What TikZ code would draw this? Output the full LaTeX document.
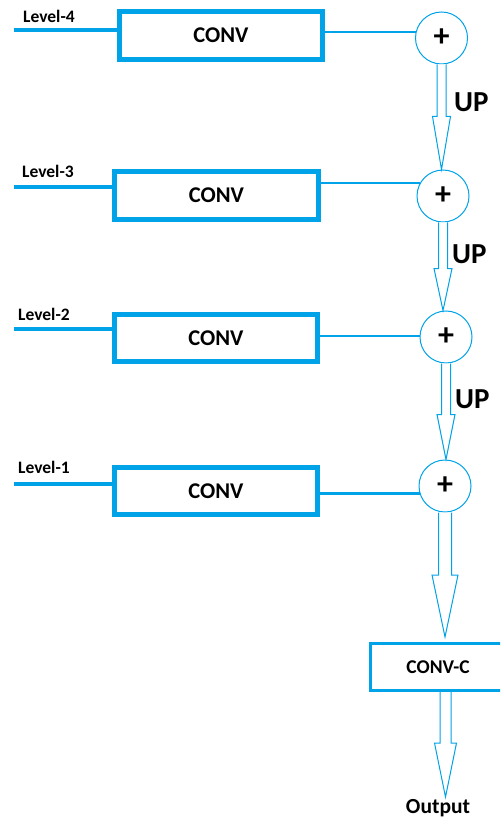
\documentclass[tikz,border=0pt]{standalone}
\usepackage{fontspec}
\setmainfont{Carlito}
\usetikzlibrary{calc}

\definecolor{paintblue}{RGB}{0,162,232}

% hollow block arrow: from, to, head length, half width of the shaft
\newcommand{\blockarrow}[4]{%
  \draw[hollow] let \p1=#1, \p2=#2 in
    (\x1-#4pt,\y1) -- (\x1-#4pt,\y2+#3pt) -- (\x1-2*#4pt,\y2+#3pt) -- (\x1,\y2)
    -- (\x1+2*#4pt,\y2+#3pt) -- (\x1+#4pt,\y2+#3pt) -- (\x1+#4pt,\y1);
}

\tikzset{
  convbox/.style={draw=paintblue, line width=5pt, minimum width=203pt, minimum height=48pt,
    inner sep=0pt, font=\fontsize{22.5}{26}\selectfont\bfseries},
  sumnode/.style={circle, draw=paintblue, line width=1pt, minimum size=52pt, inner sep=0pt,
    font=\fontsize{32}{34}\selectfont\bfseries},
  feed/.style={paintblue, line width=4pt},
  link/.style={paintblue, line width=2.5pt},
  hollow/.style={draw=paintblue, line width=1pt, fill=white, line join=miter},
  lvltext/.style={anchor=base west, inner sep=0pt, font=\fontsize{17.5}{20}\selectfont\bfseries},
  uptext/.style={anchor=base west, inner sep=0pt, font=\fontsize{29}{32}\selectfont\bfseries},
  smalltext/.style={inner sep=0pt, font=\fontsize{19.5}{22}\selectfont\bfseries},
}

\begin{document}
\begin{tikzpicture}[x=1pt, y=-1pt]
    \useasboundingbox (0,0) rectangle (500,818);
    \clip (0,0) rectangle (500,818);
    % Conv blocks
    \node[convbox] (conv4) at (221,35.5) {CONV};
    \node[convbox, minimum width=204pt] (conv3) at (216.5,195.5) {CONV};
    \node[convbox, minimum height=47pt] (conv2) at (216,338) {CONV};
    \node[convbox, minimum height=47pt] (conv1) at (216,491) {CONV};
    % Sums
    \node[sumnode] (sum4) at (441.5,38) {+};
    \node[sumnode] (sum3) at (443,196) {+};
    \node[sumnode] (sum2) at (446,337) {+};
    \node[sumnode] (sum1) at (445,486) {+};
    % Inputs
    \node[lvltext] (lvl4) at (23,23) {Level-4};
    \node[lvltext] (lvl3) at (22,178) {Level-3};
    \node[lvltext] (lvl2) at (18,320) {Level-2};
    \node[lvltext] (lvl1) at (18,473) {Level-1};
    \coordinate (in4) at (14,30);
    \coordinate (in3) at (14,187);
    \coordinate (in2) at (14,329);
    \coordinate (in1) at (14,484);
    \draw[feed] (in4) -- (in4 -| conv4.west);
    \draw[feed] (in3) -- (in3 -| conv3.west);
    \draw[feed] (in2) -- (in2 -| conv2.west);
    \draw[feed] (in1) -- (in1 -| conv1.west);
    % Conv to sum
    \draw[link] (sum4.167 -| conv4.east) -- (sum4.167);
    \draw[link] (sum3.150 -| conv3.east) -- (sum3.150);
    \draw[link] (sum2.178 -| conv2.east) -- (sum2.178);
    \draw[link] (sum1.196 -| conv1.east) -- (sum1.196);
    % Upsampling
    \blockarrow{(sum4.south)}{(sum3.north)}{53}{4.5}
    \blockarrow{(sum3.south)}{(sum2.north)}{42}{4.5}
    \blockarrow{(sum2.south)}{(sum1.north)}{45}{4.5}
    \node[uptext] (up4) at (454,112) {UP};
    \node[uptext] (up3) at (452,263) {UP};
    \node[uptext] (up2) at (455,408) {UP};
    % Final conv and output
    \node[draw=paintblue, line width=3pt, minimum width=135pt, minimum height=47pt,
      smalltext] (convc) at (438,667) {CONV-C};
    \blockarrow{(sum1.south)}{($(convc.north)+(0,-5)$)}{62}{6.5}
    \node[smalltext, anchor=base, font=\fontsize{21.5}{24}\selectfont\bfseries] (out) at (438,813) {Output};
    \coordinate (outtip) at (445.5,797);
    \blockarrow{($(convc.south)+(7.5,0)$)}{(outtip)}{54}{5.5}
\end{tikzpicture}
\end{document}
